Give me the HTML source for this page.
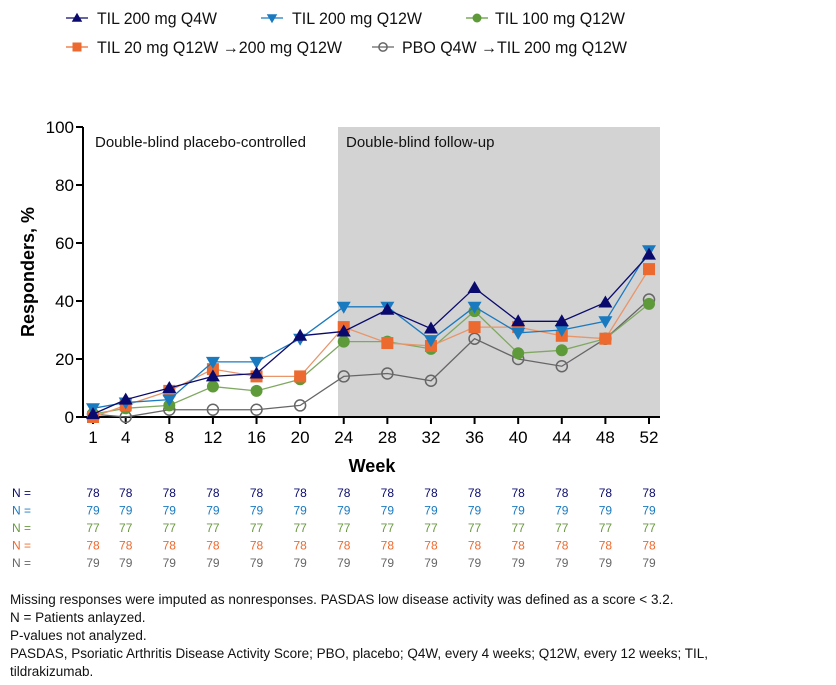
<!DOCTYPE html>
<html><head><meta charset="utf-8"><style>
body{margin:0;background:#fff;width:836px;height:685px;overflow:hidden;font-family:"Liberation Sans",Arial,sans-serif;}
svg{position:absolute;left:0;top:0}
.fn{position:absolute;left:10px;top:591px;font-size:13.5px;line-height:18px;color:#111}
</style></head><body>
<svg id="chart" width="836" height="590"></svg>
<div class="fn">Missing responses were imputed as nonresponses. PASDAS low disease activity was defined as a score &lt; 3.2.<br>N = Patients anlayzed.<br>P-values not analyzed.<br>PASDAS, Psoriatic Arthritis Disease Activity Score; PBO, placebo; Q4W, every 4 weeks; Q12W, every 12 weeks; TIL,<br>tildrakizumab.</div>
<script>
const weeks=[1,4,8,12,16,20,24,28,32,36,40,44,48,52];
const yTicks=[0,20,40,60,80,100];
const q4w=[1,6,10,14,15,28,29.5,37,30.5,44.5,33,33,39.5,56];
const q12w=[3,5,6,19,19,27,38,38,26.5,38,29,30,33,57.5];
const m100=[1,3,4,10.5,9,13,26,26,23.5,36.5,22,23,27,39];
const m20=[0,4,9,16.5,14,14,31,25.5,24.5,31,31,28,27,51];
const pbo=[1,0,2.5,2.5,2.5,4,14,15,12.5,27,20,17.5,27,40.5];
const nQ4w=[78,78,78,78,78,78,78,78,78,78,78,78,78,78];
const nQ12w=[79,79,79,79,79,79,79,79,79,79,79,79,79,79];
const n100=[77,77,77,77,77,77,77,77,77,77,77,77,77,77];
const n20=[78,78,78,78,78,78,78,78,78,78,78,78,78,78];
const nPbo=[79,79,79,79,79,79,79,79,79,79,79,79,79,79];

const svg=document.getElementById('chart');
const NS='http://www.w3.org/2000/svg';
const x=w=>93+(w-1)*(649-93)/51;
const y=v=>417-v*2.9;
function el(t,a,txt){const e=document.createElementNS(NS,t);for(const k in a)e.setAttribute(k,a[k]);if(txt!==undefined)e.textContent=txt;svg.appendChild(e);return e;}
let e;
e=el('rect',{x:338,y:127,width:322,height:290,fill:'#d3d3d3'});


e=el('text',{x:95,y:147,'font-size':15,fill:'#111'},'Double-blind placebo-controlled');


e=el('text',{x:346,y:147,'font-size':15,fill:'#111'},'Double-blind follow-up');


el('line',{x1:83,y1:127,x2:83,y2:418,stroke:'#000','stroke-width':2});
el('line',{x1:82,y1:417,x2:660,y2:417,stroke:'#000','stroke-width':2});
yTicks.forEach(t=>{el('line',{x1:76,y1:y(t),x2:83,y2:y(t),stroke:'#000','stroke-width':2});
 e=el('text',{x:74,y:y(t)+6,'font-size':17,'text-anchor':'end',fill:'#000'},t);
 
 });
weeks.forEach(w=>{el('line',{x1:x(w),y1:417,x2:x(w),y2:424,stroke:'#000','stroke-width':2});
 e=el('text',{x:x(w),y:443,'font-size':17,'text-anchor':'middle',fill:'#000'},w);
 
 });
e=el('text',{x:372,y:472,'font-size':18,'font-weight':'bold','text-anchor':'middle'},'Week');


e=el('text',{x:0,y:0,'font-size':18,'font-weight':'bold','text-anchor':'middle',transform:'translate(34,272) rotate(-90)'},'Responders, %');



function marker(kind,cx,cy,col,s){
 s=s||1;
 if(kind==='up')return el('polygon',{points:`${cx},${cy-7*s} ${cx-7*s},${cy+5*s} ${cx+7*s},${cy+5*s}`,fill:col});
 if(kind==='down')return el('polygon',{points:`${cx},${cy+7*s} ${cx-7*s},${cy-5*s} ${cx+7*s},${cy-5*s}`,fill:col});
 if(kind==='circ')return el('circle',{cx:cx,cy:cy,r:6*s,fill:col});
 if(kind==='sq')return el('rect',{x:cx-6*s,y:cy-6*s,width:12*s,height:12*s,fill:col});
 return el('circle',{cx:cx,cy:cy,r:5.5*s,fill:'none',stroke:col,'stroke-width':1.5});
}
const series=[
 {d:pbo,c:'#666',k:'open',name:'pbo'},
 {d:m100,c:'#5f9a3a',lc:'#7fa860',k:'circ',name:'til100-q12w'},
 {d:m20,c:'#ec6a2f',lc:'#e9956a',k:'sq',name:'til20-q12w'},
 {d:q12w,c:'#1a7ac0',k:'down',name:'til200-q12w'},
 {d:q4w,c:'#0a0a6e',k:'up',name:'til200-q4w'}];
series.forEach(s=>{
 e=el('polyline',{points:s.d.map((v,i)=>x(weeks[i])+','+y(v)).join(' '),fill:'none',stroke:s.lc||s.c,'stroke-width':1.3});
 
 
 s.d.forEach((v,i)=>{e=marker(s.k,x(weeks[i]),y(v),s.c);
  
  });
});
// legend
const leg=[
 {k:'up',c:'#0a0a6e',t:'TIL 200 mg Q4W',x:77,y:18,tx:97,w:120},
 {k:'down',c:'#1a7ac0',t:'TIL 200 mg Q12W',x:272,y:18,tx:292,w:130},
 {k:'circ',c:'#5f9a3a',t:'TIL 100 mg Q12W',x:477,y:18,tx:495,w:130},
 {k:'sq',c:'#ec6a2f',t:'TIL 20 mg Q12W \u2192200 mg Q12W',x:77,y:47,tx:97,w:245},
 {k:'open',c:'#666',t:'PBO Q4W \u2192TIL 200 mg Q12W',x:383,y:47,tx:402,w:225}];
leg.forEach(l=>{el('line',{x1:l.x-11,y1:l.y,x2:l.x+11,y2:l.y,stroke:l.c,'stroke-width':1.3});
 marker(l.k,l.x,l.y,l.c,0.75);
 e=el('text',{x:l.tx,y:l.y+6,'font-size':16.5,fill:'#111',textLength:l.w,lengthAdjust:'spacingAndGlyphs'},l.t);
 
 });
// N table
const rows=[[nQ4w,'#0a0a6e'],[nQ12w,'#1a7ac0'],[n100,'#6a9a40'],[n20,'#ec6a2f'],[nPbo,'#666']];
rows.forEach((r,j)=>{const yy=497+j*17.5;
 e=el('text',{x:12,y:yy,'font-size':12,fill:r[1]},'N =');
 
 
 r[0].forEach((n,i)=>{e=el('text',{x:x(weeks[i]),y:yy,'font-size':12,'text-anchor':'middle',fill:r[1]},n);
  
  });});
</script>
</body></html>
